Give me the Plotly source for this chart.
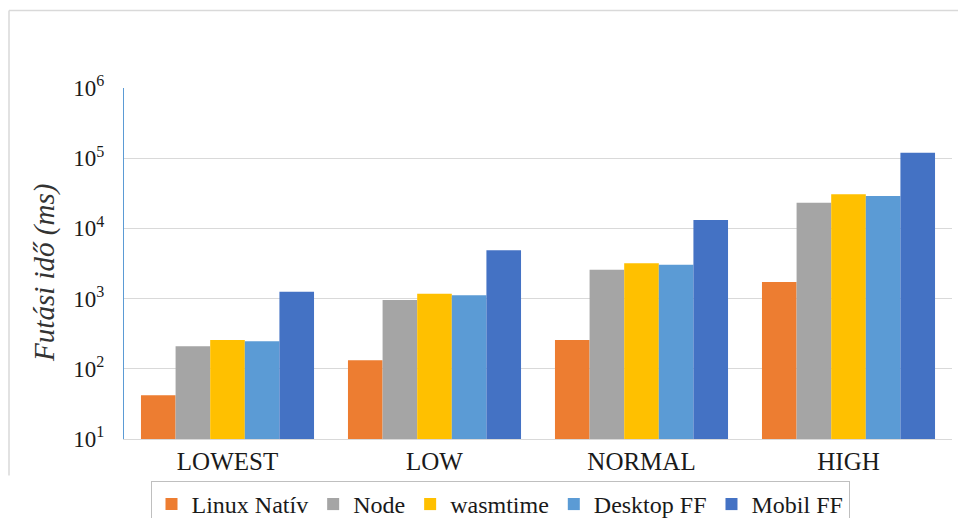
import plotly.graph_objects as go

categories = ["LOWEST", "LOW", "NORMAL", "HIGH"]
series_names = ["Linux Natív", "Node", "wasmtime", "Desktop FF", "Mobil FF"]
linux_nativ = [42, 132, 258, 1720]
node = [210, 955, 2580, 23200]
wasmtime = [257, 1175, 3200, 30600]
desktop_ff = [247, 1112, 3030, 29000]
mobil_ff = [1250, 4880, 13200, 120000]
colors = ["#ED7D31", "#A5A5A5", "#FFC000", "#5B9BD5", "#4472C4"]
tick_vals = [10, 100, 1000, 10000, 100000, 1000000]
tick_text = ["10<sup>1</sup>", "10<sup>2</sup>", "10<sup>3</sup>", "10<sup>4</sup>", "10<sup>5</sup>", "10<sup>6</sup>"]

FONT = "Liberation Serif"
W, H = 950, 510
L, R, T, B = 116, 6, 80, 75
PW, PH = W - L - R, H - T - B


def px(xp):
    return (xp - 8 - L) / PW


def py(yp):
    return (H - B - (yp - 8)) / PH


def cy(yp):
    return (H - (yp - 8)) / H


fig = go.Figure()
for name, vals, col in zip(series_names, [linux_nativ, node, wasmtime, desktop_ff, mobil_ff], colors):
    fig.add_trace(go.Bar(x=categories, y=vals, name=name, marker=dict(color=col, line=dict(width=0))))

fig.update_layout(
    width=W, height=H,
    margin=dict(l=L, r=R, t=T, b=B - 3),
    paper_bgcolor="white", plot_bgcolor="white",
    barmode="group", bargap=0.164, bargroupgap=0,
    font=dict(family=FONT, color="#1a1a1a"),
    showlegend=True,
    legend=dict(orientation="h", xref="paper", x=px(500), xanchor="center",
                yref="container", y=cy(481), yanchor="top",
                bordercolor="#BFBFBF", borderwidth=1,
                font=dict(size=24, family=FONT, color="#1a1a1a"),
                tracegroupgap=0, itemwidth=30),
    xaxis=dict(showline=True, linecolor="#D9D9D9", linewidth=1, ticks="",
               tickfont=dict(size=25, family=FONT, color="#1a1a1a"), showgrid=False),
    yaxis=dict(type="log", range=[1, 6], tickvals=tick_vals, ticktext=tick_text,
               showgrid=True, gridcolor="#D9D9D9", gridwidth=1,
               showline=True, linecolor="#5B9BD5", linewidth=1, zeroline=False,
               tickfont=dict(size=23, family=FONT, color="#1a1a1a"), ticks="", ticklabelstandoff=14),
    annotations=[dict(text="<i>Futási idő (ms)</i>", textangle=-90, xref="paper", yref="paper",
                      x=px(45), y=py(275), xanchor="center", yanchor="middle",
                      showarrow=False, font=dict(size=29, family=FONT, color="#333333"))],
    shapes=[
        dict(type="line", xref="paper", yref="paper", x0=px(9), x1=px(966),
             y0=py(9.5), y1=py(9.5), line=dict(color="#D9D9D9", width=1.5)),
        dict(type="line", xref="paper", yref="paper", x0=px(9), x1=px(9),
             y0=py(9.5), y1=py(480), line=dict(color="#D9D9D9", width=1.5)),
    ],
)

fig.write_html("out.html")
